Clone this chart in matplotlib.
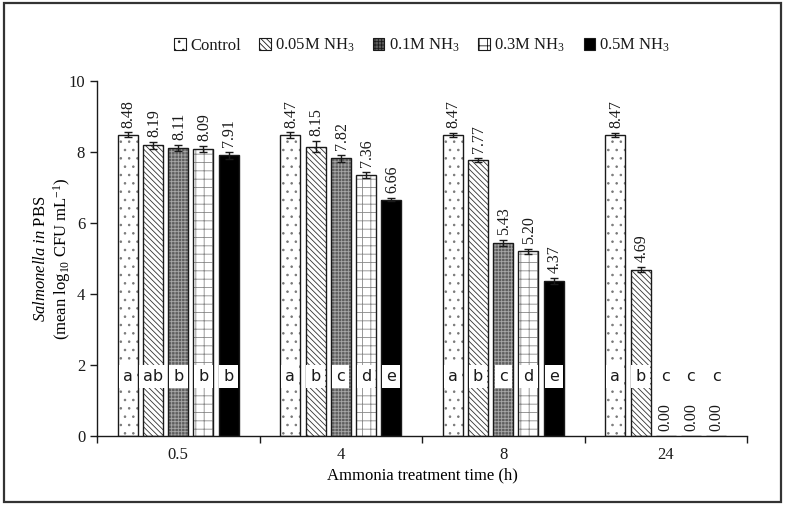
import matplotlib
matplotlib.use("Agg")
import matplotlib.pyplot as plt
from matplotlib.patches import Rectangle
import numpy as np

DARK = "#1a1a1a"

plt.rcParams.update({
    "font.family": "Liberation Serif",
    "font.size": 11,
    "mathtext.fontset": "custom",
    "mathtext.rm": "Liberation Serif",
    "mathtext.it": "Liberation Serif:italic",
    "axes.linewidth": 1.0,
    "hatch.linewidth": 0.6,
    "axes.edgecolor": DARK,
    "text.color": DARK,
    "xtick.color": DARK,
    "ytick.color": DARK,
})

# ---------------------------------------------------------------
# data
# ---------------------------------------------------------------
times = ["0.5", "4", "8", "24"]
treatments = ["Control", "0.05M NH$_3$", "0.1M NH$_3$", "0.3M NH$_3$", "0.5M NH$_3$"]

control = [8.48, 8.47, 8.47, 8.47]
nh3_005 = [8.19, 8.15, 7.77, 4.69]
nh3_01 = [8.11, 7.82, 5.43, 0.00]
nh3_03 = [8.09, 7.36, 5.20, 0.00]
nh3_05 = [7.91, 6.66, 4.37, 0.00]

err_control = [0.07, 0.08, 0.06, 0.06]
err_005 = [0.10, 0.15, 0.06, 0.08]
err_01 = [0.08, 0.09, 0.08, 0.0]
err_03 = [0.09, 0.09, 0.07, 0.0]
err_05 = [0.10, 0.05, 0.08, 0.0]

letters_control = ["a", "a", "a", "a"]
letters_005 = ["ab", "b", "b", "b"]
letters_01 = ["b", "c", "c", "c"]
letters_03 = ["b", "d", "d", "c"]
letters_05 = ["b", "e", "e", "c"]

series = [control, nh3_005, nh3_01, nh3_03, nh3_05]
errors = [err_control, err_005, err_01, err_03, err_05]
letters = [letters_control, letters_005, letters_01, letters_03, letters_05]

# style per treatment: facecolor, hatch, hatch colour
styles = [
    ("white", "..", "#777777"),
    ("white", "\\\\\\\\\\\\", "#333333"),
    ("#5e5e5e", "+++++", "#a8a8a8"),
    ("white", "++", "#888888"),
    ("black", None, "black"),
]

fig = plt.figure(figsize=(7.85, 5.05), dpi=100)
ax = fig.add_axes([0.1236, 0.1366, 0.828, 0.703])

x = np.arange(len(times))
step = 0.155
width = 0.123
offsets = (np.arange(5) - 2) * step

handles = []
for i, (vals, errs, lets, (fc, hatch, hc)) in enumerate(zip(series, errors, letters, styles)):
    pos = x + offsets[i]
    ax.bar(pos, vals, width=width, facecolor=fc, edgecolor=hc, hatch=hatch,
           linewidth=0, zorder=2)
    # outline drawn separately so hatch colour can differ
    ax.bar(pos, vals, width=width, facecolor="none", edgecolor=DARK, linewidth=1.0, zorder=3)
    handles.append(Rectangle((0, 0), 1, 1, facecolor=fc, edgecolor=DARK, hatch=hatch, linewidth=0.8))
    for p, v, e, lt in zip(pos, vals, errs, lets):
        if v > 0:
            ax.errorbar(p, v, yerr=e, fmt="none", ecolor=DARK, elinewidth=1.0,
                        capsize=3, capthick=1.0, zorder=4)
            ax.text(p + 0.005, v + e + 0.14, f"{v:.2f}", rotation=90, ha="center", va="bottom",
                    fontsize=11.5, zorder=5)
            ax.text(p, 1.68, lt, ha="center", va="center", fontsize=11.5, family="DejaVu Sans",
                    bbox=dict(facecolor="white", edgecolor="none", pad=3.0), zorder=5)
        else:
            ax.text(p, 0.15, f"{v:.2f}", rotation=90, ha="center", va="bottom", fontsize=11.5, zorder=5)
            ax.text(p, 1.68, lt, ha="center", va="center", fontsize=11.5, family="DejaVu Sans",
                    zorder=5)

ax.set_xlim(-0.5, len(times) - 0.5)
ax.set_ylim(0, 10)
ax.set_yticks(np.arange(0, 11, 2))
ax.set_xticks(np.arange(-0.5, len(times), 1.0))
ax.set_xticklabels([])
ax.set_xticks(x, minor=True)
ax.set_xticklabels(times, minor=True)
ax.tick_params(axis="x", which="major", direction="out", length=5, width=1.0)
ax.tick_params(axis="x", which="minor", length=0, pad=8, labelsize=12)
ax.tick_params(axis="y", direction="out", length=5, width=1.0, labelsize=12)
ax.spines["top"].set_visible(False)
ax.spines["right"].set_visible(False)

ax.set_xlabel("Ammonia treatment time (h)", fontsize=12, labelpad=3)
ax.set_ylabel("$\\it{Salmonella\\ in}$ PBS\n(mean log$_{10}$ CFU mL$^{-1}$)", fontsize=12,
              labelpad=-3, linespacing=1.1)

fig.legend(handles, treatments, loc="center", bbox_to_anchor=(0.538, 0.91), ncol=5,
           frameon=False, fontsize=12, handlelength=0.7, handleheight=0.7,
           handletextpad=0.25, columnspacing=1.1)

# outer frame around the figure
fig.patches.append(Rectangle((0.005, 0.006), 0.99, 0.988, transform=fig.transFigure,
                             fill=False, edgecolor="#333333", linewidth=1.6))

fig.savefig("out.png", dpi=100, facecolor="white")
